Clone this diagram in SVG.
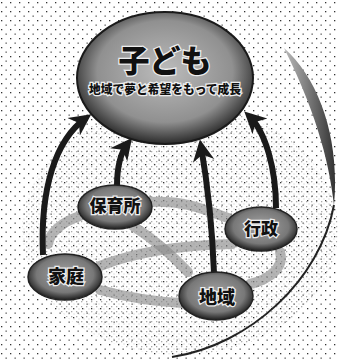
<svg xmlns="http://www.w3.org/2000/svg" width="338" height="359" viewBox="0 0 338 359">
<defs>
<pattern id="dots" width="9" height="9" patternUnits="userSpaceOnUse">
<rect x="1" y="2" width="1.3" height="1.3" fill="#333"/>
<rect x="5.5" y="6.5" width="1.3" height="1.3" fill="#555"/>
</pattern>
<pattern id="dots2" width="5" height="5" patternUnits="userSpaceOnUse">
<rect x="1" y="1" width="1.3" height="1.3" fill="#555"/>
<rect x="3.5" y="3.5" width="1" height="1" fill="#888"/>
</pattern>
<radialGradient id="bigG" cx="0.5" cy="0.45" r="0.55">
<stop offset="0" stop-color="#bcbcbc"/>
<stop offset="0.7" stop-color="#909090"/>
<stop offset="1" stop-color="#2a2a2a"/>
</radialGradient>
<radialGradient id="nodeG" cx="0.5" cy="0.45" r="0.55">
<stop offset="0" stop-color="#a4a4a4"/>
<stop offset="0.7" stop-color="#787878"/>
<stop offset="1" stop-color="#1e1e1e"/>
</radialGradient>
<linearGradient id="crescG" x1="0" y1="0" x2="1" y2="0">
<stop offset="0" stop-color="#bbb"/>
<stop offset="1" stop-color="#333"/>
</linearGradient>
<marker id="ah" viewBox="0 0 10 10" refX="7" refY="5" markerWidth="3.6" markerHeight="4" orient="auto" markerUnits="strokeWidth">
<path d="M0,0 L10,5 L0,10 L3,5 Z" fill="#1a1a1a"/>
</marker>
</defs>
<style>
.band{fill:none;stroke:#8c8c8c;stroke-width:10;stroke-linecap:round;opacity:0.65}
.arrow{fill:none;stroke:#1a1a1a;stroke-width:6;marker-end:url(#ah)}
.node{fill:url(#nodeG);stroke:#222;stroke-width:1.5}
.lbl{font-family:"Noto Sans CJK JP",sans-serif;font-weight:900;fill:#111;stroke:#eee;stroke-width:2.5;paint-order:stroke;text-anchor:middle}
</style>
<rect width="338" height="359" fill="#fff"/>
<rect width="338" height="359" fill="url(#dots)"/>
<ellipse cx="180" cy="230" rx="158" ry="125" fill="url(#dots2)" opacity="0.5"/>
<!-- crescent -->
<path d="M284,48 C320,80 340,140 334,205 C330,170 320,120 284,48 Z" fill="url(#crescG)"/>
<path d="M334,205 C320,280 250,345 172,357" fill="none" stroke="#222" stroke-width="2"/>
<g id="connectors">
<path class="band" d="M150,202 C185,200 205,210 228,218"/>
<path class="band" d="M133,226 C155,240 172,255 188,272"/>
<path class="band" d="M100,266 C140,250 190,245 232,244"/>
<path class="band" d="M100,290 C130,298 160,302 182,303"/>
<path class="band" d="M280,252 C285,268 268,280 250,284"/>
<path class="band" d="M80,216 C62,222 50,232 48,244"/>
<path class="arrow" d="M43,255 C40,190 55,140 86,118"/>
<path class="arrow" d="M117,186 C117,165 121,152 128,143"/>
<path class="arrow" d="M214,273 C212,220 206,175 201,146"/>
<path class="arrow" d="M276,208 C276,170 266,132 249,116"/>
</g>
<g id="kodomo">
<ellipse cx="165" cy="78" rx="88" ry="66" fill="url(#bigG)" stroke="#1a1a1a" stroke-width="2"/>
<text class="lbl" x="165" y="72" font-size="31">子ども</text>
<text class="lbl" x="165" y="94" font-size="12" textLength="152" lengthAdjust="spacingAndGlyphs">地域で夢と希望をもって成長</text>
</g>
<g id="hoikusho">
<ellipse class="node" cx="115" cy="207" rx="37" ry="22"/>
<text class="lbl" x="115" y="212" font-size="17">保育所</text>
</g>
<g id="gyosei">
<ellipse class="node" cx="261" cy="229" rx="36" ry="22"/>
<text class="lbl" x="261" y="235" font-size="17">行政</text>
</g>
<g id="katei">
<ellipse class="node" cx="65" cy="277" rx="37" ry="23"/>
<text class="lbl" x="66" y="283" font-size="18">家庭</text>
</g>
<g id="chiiki">
<ellipse class="node" cx="216" cy="296" rx="37" ry="24"/>
<text class="lbl" x="217" y="304" font-size="18">地域</text>
</g>
</svg>
